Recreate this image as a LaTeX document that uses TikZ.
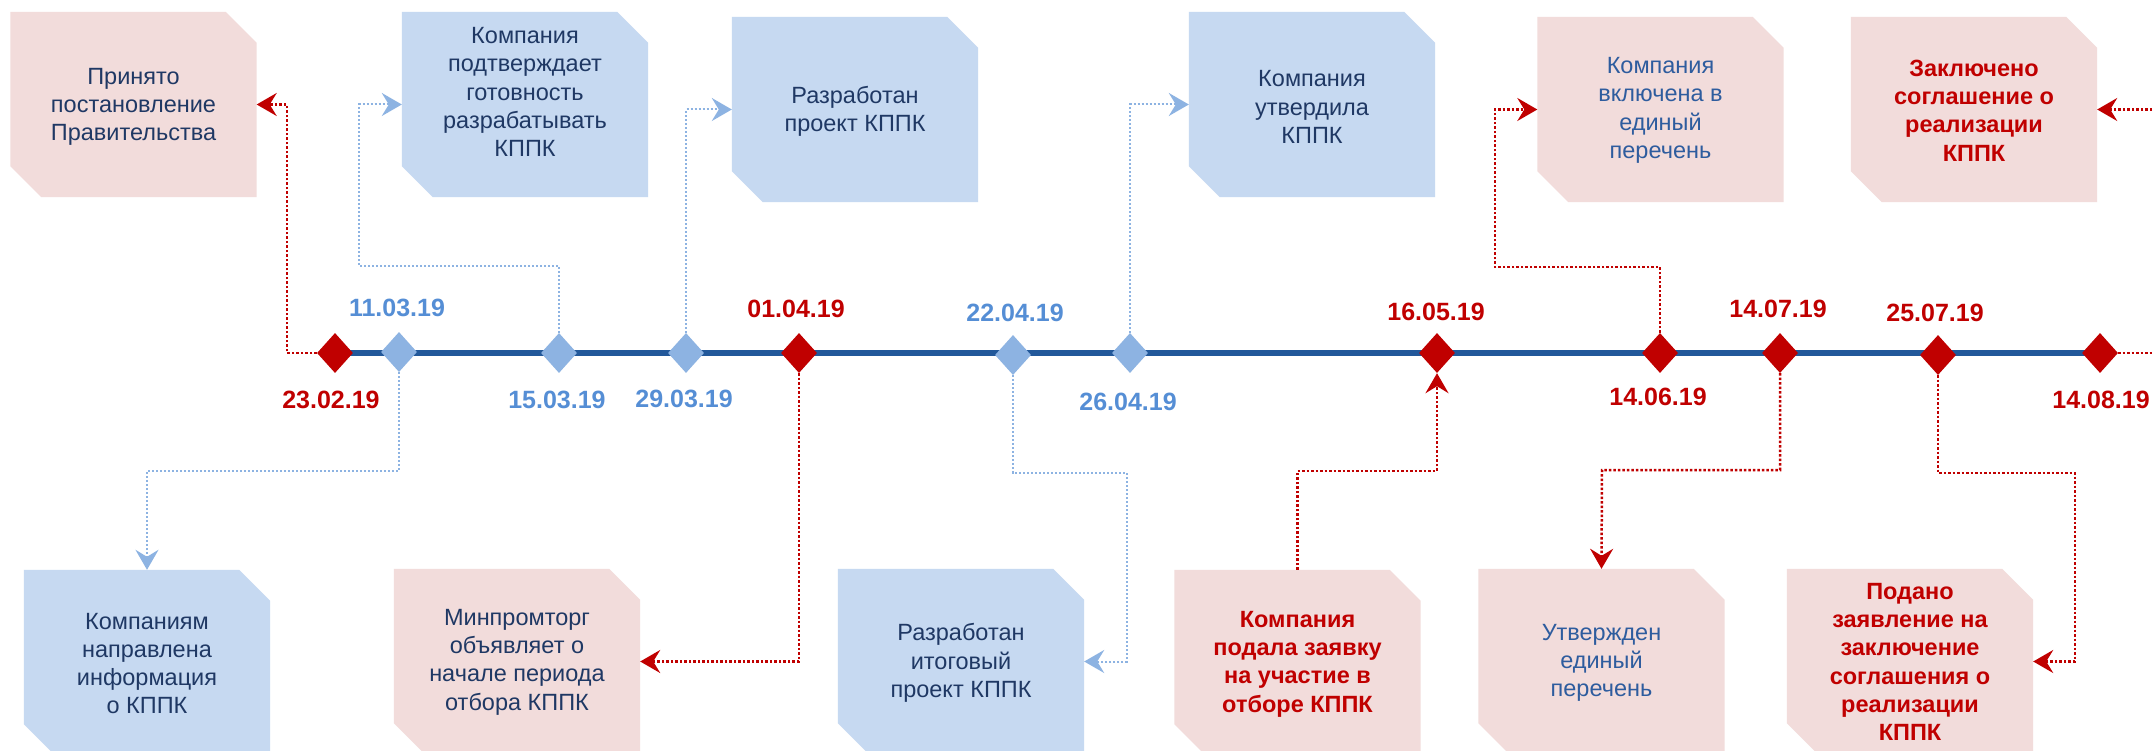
\documentclass[tikz,border=0pt]{standalone}
\usepackage{fontspec}
\setmainfont{Liberation Sans}
\usetikzlibrary{shapes.geometric,arrows.meta}
\definecolor{boxblue}{HTML}{C6D9F1}
\definecolor{boxpink}{HTML}{F2DCDB}
\definecolor{navytext}{HTML}{1F3864}
\definecolor{midtext}{HTML}{2E5C9E}
\definecolor{redc}{HTML}{C00000}
\definecolor{datblue}{HTML}{558ED5}
\definecolor{diablue}{HTML}{8DB3E2}
\definecolor{tline}{HTML}{22589A}
\newcommand\chamf[2]{\fill[#2] (#1.north west) -- ([xshift=-31pt]#1.north east) -- ([yshift=-31pt]#1.north east) -- (#1.south east) -- ([xshift=31pt]#1.south west) -- ([yshift=31pt]#1.south west) -- cycle;}
\tikzset{
  boxnode/.style={rectangle, minimum width=246pt, minimum height=185pt, inner sep=0pt},
  btext/.style={align=center, inner sep=0pt, font=\fontsize{23.5}{28.3}\selectfont},
  dtext/.style={inner sep=0pt, font=\fontsize{25}{30}\selectfont\bfseries},
  dia/.style={diamond, minimum width=36pt, minimum height=40pt, inner sep=0pt, shape aspect=0.9},
  rdia/.style={dia, fill=redc},
  bdia/.style={dia, fill=diablue},
  rarrow/.style={draw=redc, line width=2.5pt, dash pattern=on 2.5pt off 2pt, -{Stealth[length=20pt,width=23pt,inset=7pt,fill=redc]}},
  barrow/.style={draw=diablue, line width=2pt, dash pattern=on 2pt off 2pt, -{Stealth[length=20pt,width=23pt,inset=7pt,fill=diablue]}},
}
\begin{document}
\begin{tikzpicture}[x=1pt,y=-1pt]
\clip (0,0) rectangle (2152,751);
\fill[white] (0,0) rectangle (2152,751);
% boxes
\node[boxnode] (b1) at (133.5,104.5) {};
\node[boxnode] (b2) at (525,104.5) {};
\node[boxnode] (b3) at (855,109.5) {};
\node[boxnode] (b4) at (1312,104.5) {};
\node[boxnode] (b5) at (1660.5,109.5) {};
\node[boxnode] (b6) at (1974,109.5) {};
\node[boxnode] (b7) at (147,662.5) {};
\node[boxnode] (b8) at (517,661.5) {};
\node[boxnode] (b9) at (961,661.5) {};
\node[boxnode] (b10) at (1297.5,662.5) {};
\node[boxnode] (b11) at (1601.5,661.5) {};
\node[boxnode] (b12) at (1910,661.5) {};
\chamf{b1}{boxpink}
\chamf{b2}{boxblue}
\chamf{b3}{boxblue}
\chamf{b4}{boxblue}
\chamf{b5}{boxpink}
\chamf{b6}{boxpink}
\chamf{b7}{boxblue}
\chamf{b8}{boxpink}
\chamf{b9}{boxblue}
\chamf{b10}{boxpink}
\chamf{b11}{boxpink}
\chamf{b12}{boxpink}
% box texts
\node[btext, text=navytext] (t1) at (133.5,107) {Принято\\постановление\\Правительства};
\node[btext, text=navytext] (t2) at (525,92) {Компания\\подтверждает\\готовность\\разрабатывать\\КППК};
\node[btext, text=navytext] (t3) at (855,111) {Разработан\\проект КППК};
\node[btext, text=navytext] (t4) at (1312,107) {Компания\\утвердила\\КППК};
\node[btext, text=midtext] (t5) at (1660.5,110.5) {Компания\\включена в\\единый\\перечень};
\node[btext, text=redc, font=\fontsize{23.5}{28.3}\selectfont\bfseries] (t6) at (1974,110.5) {Заключено\\соглашение о\\реализации\\КППК};
\node[btext, text=navytext] (t7) at (147,663.5) {Компаниям\\направлена\\информация\\о КППК};
\node[btext, text=navytext] (t8) at (517,662) {Минпромторг\\объявляет о\\начале периода\\отбора КППК};
\node[btext, text=navytext] (t9) at (961,663) {Разработан\\итоговый\\проект КППК};
\node[btext, text=redc, font=\fontsize{23.5}{28.3}\selectfont\bfseries] (t10) at (1297.5,664) {Компания\\подала заявку\\на участие в\\отборе КППК};
\node[btext, text=midtext] (t11) at (1601.5,663) {Утвержден\\единый\\перечень};
\node[btext, text=redc, font=\fontsize{23.5}{28.3}\selectfont\bfseries] (t12) at (1910,662) {Подано\\заявление на\\заключение\\соглашения о\\реализации\\КППК};
% timeline
\coordinate (p1) at (335,353);
\coordinate (p12) at (2100,353);
\draw[tline, line width=6pt] (p1) -- (p12);
\node[rdia] (d1) at (335,353) {};
\node[bdia] (d2) at (399,352) {};
\node[bdia] (d3) at (559,353) {};
\node[bdia] (d4) at (686,353) {};
\node[rdia] (d5) at (799,353) {};
\node[bdia] (d6) at (1013,355) {};
\node[bdia] (d7) at (1130,353) {};
\node[rdia] (d8) at (1437,353) {};
\node[rdia] (d9) at (1660,353) {};
\node[rdia] (d10) at (1780,353) {};
\node[rdia] (d11) at (1938,355) {};
\node[rdia] (d12) at (2100,353) {};
% dates
\node[dtext, text=redc] (l1) at (331,400) {23.02.19};
\node[dtext, text=datblue] (l2) at (397,308) {11.03.19};
\node[dtext, text=datblue] (l3) at (557,400) {15.03.19};
\node[dtext, text=datblue] (l4) at (684,399) {29.03.19};
\node[dtext, text=redc] (l5) at (796,309) {01.04.19};
\node[dtext, text=datblue] (l6) at (1015,313) {22.04.19};
\node[dtext, text=datblue] (l7) at (1128,402) {26.04.19};
\node[dtext, text=redc] (l8) at (1436,312) {16.05.19};
\node[dtext, text=redc] (l9) at (1658,397) {14.06.19};
\node[dtext, text=redc] (l10) at (1778,309) {14.07.19};
\node[dtext, text=redc] (l11) at (1935,313) {25.07.19};
\node[dtext, text=redc] (l12) at (2101,400) {14.08.19};
% connectors
\draw[rarrow] (d1.west) -- (287,353) |- (b1.east);
\draw[barrow] (d3.north) |- (359,266) |- (b2.west);
\draw[barrow] (d4.north) |- (b3.west);
\draw[barrow] (d7.north) |- (b4.west);
\draw[rarrow] (d9.north) |- (1495,267) |- (b5.west);
\draw[rarrow] (d12.east) -- (2180,353) |- (b6.east);
\draw[barrow] (d2.south) |- (147,471) -- (b7.north);
\draw[rarrow] (d5.south) |- (b8.east);
\draw[barrow] (d6.south) |- (1127,473) |- (b9.east);
\draw[rarrow] (b10.north) |- (1437,471) -- (d8.south);
\draw[rarrow] (d10.south) |- (1602,470) -- (b11.north);
\draw[rarrow] (d11.south) |- (2075,473) |- (b12.east);
\end{tikzpicture}
\end{document}
